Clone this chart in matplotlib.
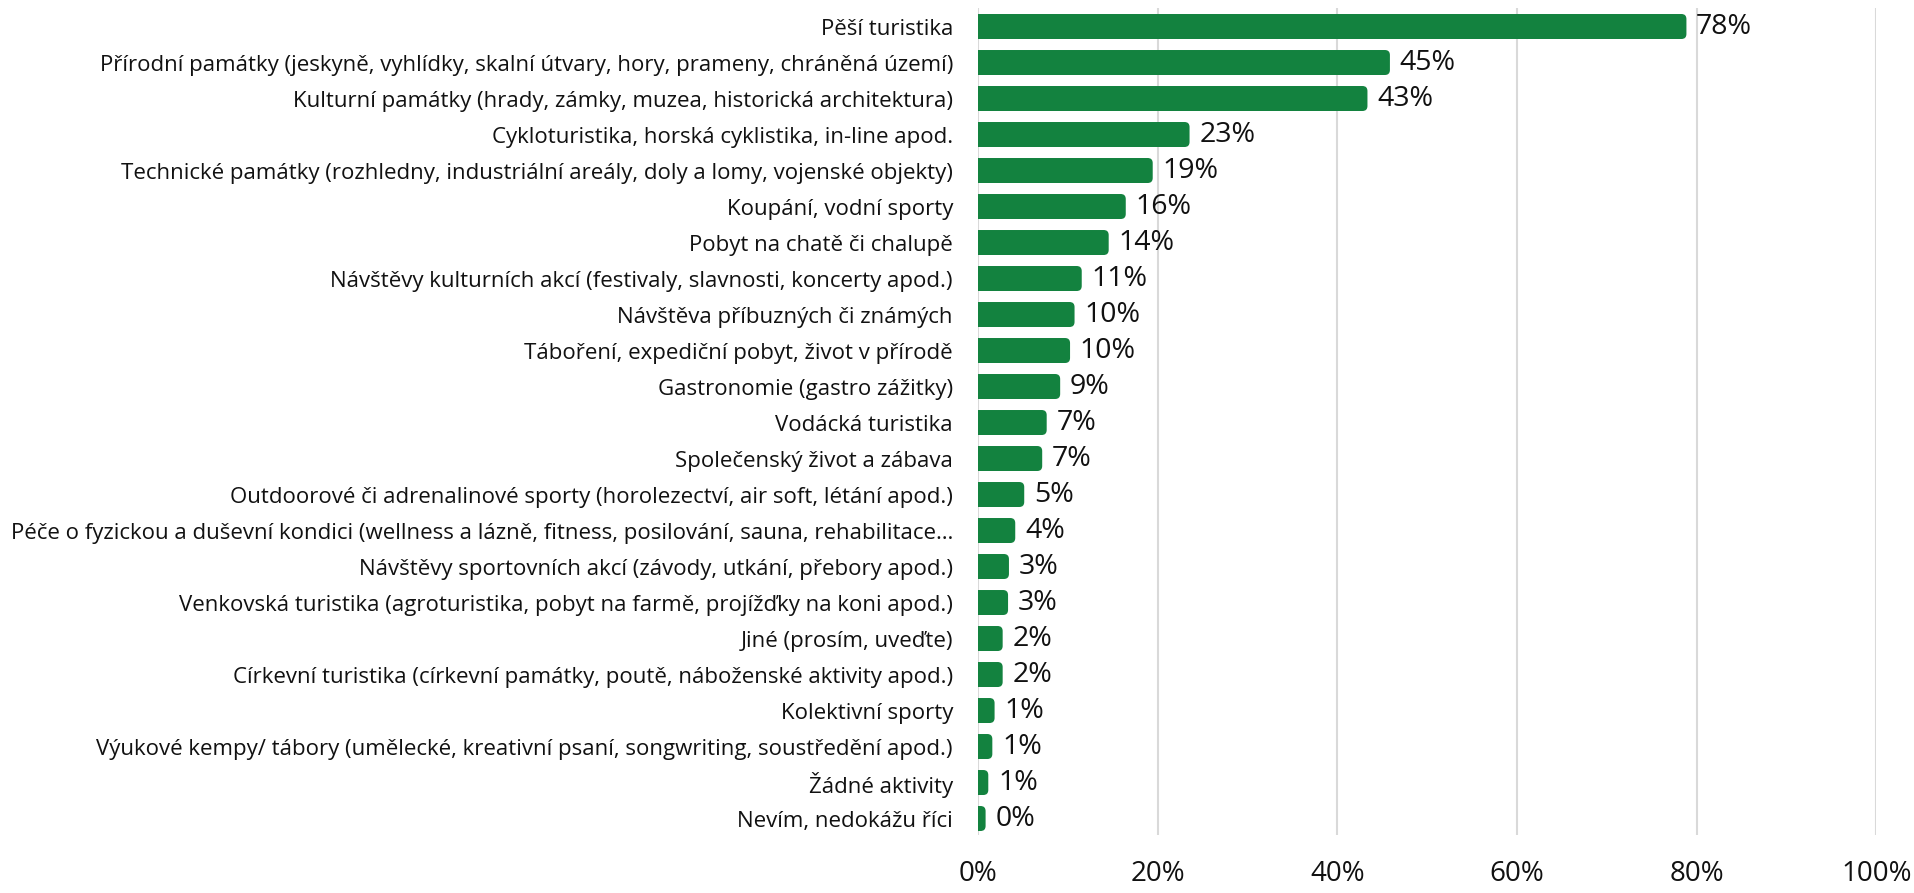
import matplotlib
matplotlib.use("Agg")
import matplotlib.pyplot as plt
from matplotlib.patches import FancyBboxPatch

labels = [
    "Pěší turistika",
    "Přírodní památky (jeskyně, vyhlídky, skalní útvary, hory, prameny, chráněná území)",
    "Kulturní památky (hrady, zámky, muzea, historická architektura)",
    "Cykloturistika, horská cyklistika, in-line apod.",
    "Technické památky (rozhledny, industriální areály, doly a lomy, vojenské objekty)",
    "Koupání, vodní sporty",
    "Pobyt na chatě či chalupě",
    "Návštěvy kulturních akcí (festivaly, slavnosti, koncerty apod.)",
    "Návštěva příbuzných či známých",
    "Táboření, expediční pobyt, život v přírodě",
    "Gastronomie (gastro zážitky)",
    "Vodácká turistika",
    "Společenský život a zábava",
    "Outdoorové či adrenalinové sporty (horolezectví, air soft, létání apod.)",
    "Péče o fyzickou a duševní kondici (wellness a lázně, fitness, posilování, sauna, rehabilitace…",
    "Návštěvy sportovních akcí (závody, utkání, přebory apod.)",
    "Venkovská turistika (agroturistika, pobyt na farmě, projížďky na koni apod.)",
    "Jiné (prosím, uveďte)",
    "Církevní turistika (církevní památky, poutě, náboženské aktivity apod.)",
    "Kolektivní sporty",
    "Výukové kempy/ tábory (umělecké, kreativní psaní, songwriting, soustředění apod.)",
    "Žádné aktivity",
    "Nevím, nedokážu říci",
]
values = [78.4, 45.4, 42.9, 23.1, 19.0, 16.0, 14.1, 11.1, 10.3, 9.8, 8.7, 7.2,
          6.7, 4.7, 3.7, 3.0, 2.9, 2.3, 2.3, 1.4, 1.15, 0.7, 0.4]
ticks = [0, 20, 40, 60, 80, 100]

green = "#13823f"
grid = "#d9d9d9"
txt = "#111111"

plt.rcParams['font.family'] = ['Open Sans', 'DejaVu Sans']

W, H = 1915, 893
fig = plt.figure(figsize=(W / 100, H / 100), dpi=100)
left, right, bottom, top = 978 / W, 1876.5 / W, 1 - 835 / H, 1 - 8 / H
ax = fig.add_axes([left, bottom, right - left, top - bottom])

n = len(labels)
y0, y1 = -0.514, n - 1 + 0.458
ax.set_xlim(0, 100)
ax.set_ylim(y1, y0)

bh = 0.694
# pixels per data unit, so the corners come out round
xpx = (right - left) * W / 100
ypx = (top - bottom) * H / (y1 - y0)
r = 5 / xpx
ext = 4 / xpx  # excel draws the bars a few px past the value
for i, v in enumerate(values):
    p = FancyBboxPatch((-2, i - bh / 2), v + ext + 2, bh,
                       boxstyle="round,pad=0,rounding_size=%f" % r,
                       mutation_aspect=xpx / ypx,
                       facecolor=green, edgecolor="none", zorder=3)
    ax.add_patch(p)
    ax.annotate("%d%%" % round(v), (v + ext, i), xytext=(7, 0), textcoords="offset points",
                va="center", ha="left", fontsize=20.5, color=txt, zorder=4)

ax.set_yticks(range(n))
ax.set_yticklabels(labels, fontsize=16, color=txt)
ax.set_xticks(ticks)
ax.set_xticklabels(["%d%%" % t for t in ticks], fontsize=20, color=txt)
ax.tick_params(axis="y", length=0, pad=18)
ax.tick_params(axis="x", length=0, pad=18)
for s in ax.spines.values():
    s.set_visible(False)
ax.grid(axis="x", color=grid, linewidth=1.5, zorder=0)
ax.set_axisbelow(True)

fig.savefig("out.png", dpi=100)
